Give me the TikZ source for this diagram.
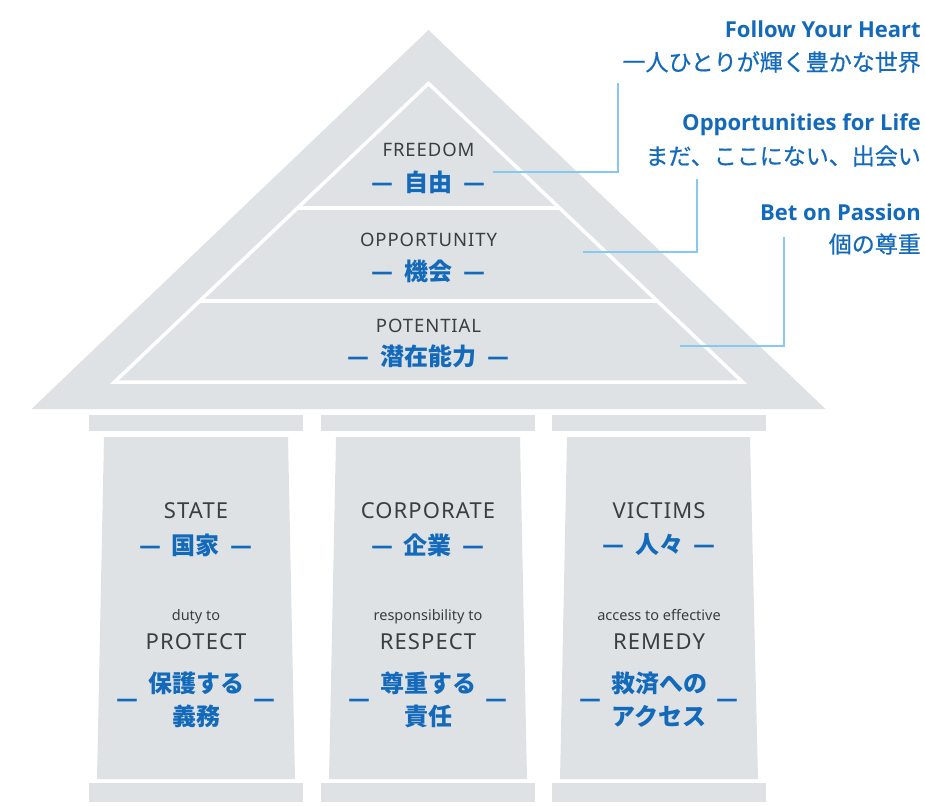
\documentclass[tikz,border=0pt]{standalone}
\usepackage{fontspec}
\setmainfont{Noto Sans}
\newfontfamily\mottofont{Open Sans}
\newfontfamily\jpfont{Noto Sans CJK JP}
\newfontfamily\jpmedium{Noto Sans CJK JP}[FakeBold=0.6]
\usetikzlibrary{positioning}

\definecolor{stonegray}{RGB}{223,226,229}
\definecolor{labelgray}{RGB}{58,62,66}
\definecolor{accentblue}{RGB}{20,106,186}
\definecolor{leaderblue}{RGB}{135,200,240}

\begin{document}
\begin{tikzpicture}[x=1pt,y=-1pt,
  stone/.style={fill=stonegray},
  groove/.style={draw=white,line width=3.5pt,line join=miter},
  roofen/.style={font=\fontsize{18.5}{20}\selectfont\addfontfeatures{LetterSpace=5},text=labelgray,inner sep=0pt,anchor=base},
  roofjp/.style={font=\jpfont\bfseries\fontsize{24}{24}\selectfont,text=accentblue,inner sep=0pt,anchor=center},
  colen/.style={font=\fontsize{22}{24}\selectfont\addfontfeatures{LetterSpace=5},text=labelgray,inner sep=0pt,anchor=base},
  colsmall/.style={font=\fontsize{14.5}{16}\selectfont,text=labelgray,inner sep=0pt,anchor=base},
  coljp/.style={font=\jpfont\bfseries\fontsize{24}{33}\selectfont,text=accentblue,inner sep=0pt,anchor=center,align=center},
  coldash/.style={font=\jpfont\bfseries\fontsize{24}{24}\selectfont,text=accentblue,inner sep=0pt,yshift=-4pt},
  motto/.style={font=\mottofont\bfseries\fontsize{22}{24}\selectfont,text=accentblue,inner sep=0pt,anchor=base east},
  mottojp/.style={font=\jpmedium\fontsize{23}{23}\selectfont,text=accentblue,inner sep=0pt,anchor=east},
  leader/.style={draw=leaderblue,line width=2pt}
]
\useasboundingbox (0,0) rectangle (925,805);

% roof
\fill[stone] (428.5,30) -- (825.5,409) -- (31.5,409) -- cycle;
\draw[groove] (428.5,83.5) -- (742.5,382) -- (114.5,382) -- cycle;
\draw[groove] (297.6,208) -- (559.4,208);
\draw[groove] (199.8,301) -- (657.2,301);

% capitals and bases
\foreach \x in {89,321,552} {
  \fill[stone] (\x,415) rectangle ++(214,16);
  \fill[stone] (\x,783) rectangle ++(214,19);
}
% column shafts
\fill[stone] (104,437) -- (288,437) -- (295,779) -- (97,779) -- cycle;
\fill[stone] (336,437) -- (520,437) -- (527,779) -- (329,779) -- cycle;
\fill[stone] (567,437) -- (750,437) -- (758,779) -- (560,779) -- cycle;

% roof labels
\node[roofen] (freedom) at (428.5,157) {FREEDOM};
\node[roofjp] (jiyu) at (428.5,182) {—\hspace{11pt}自由\hspace{11pt}—};
\node[roofen] (opportunity) at (428.5,246) {OPPORTUNITY};
\node[roofjp] (kikai) at (428.5,271) {—\hspace{11pt}機会\hspace{11pt}—};
\node[roofen] (potential) at (428.5,332) {POTENTIAL};
\node[roofjp] (senzai) at (428.5,356) {—\hspace{11pt}潜在能力\hspace{11pt}—};

% column labels
\node[colen] (state) at (196,518) {STATE};
\node[roofjp] (kokka) at (196,545) {—\hspace{11pt}国家\hspace{11pt}—};
\node[colsmall] (dutyto) at (196,620) {duty to};
\node[colen] (protect) at (196,649) {PROTECT};
\node[coljp] (hogo) at (196,699.5) {保護する\\義務};
\node[coldash,left=9pt of hogo] (hogoL) {—};
\node[coldash,right=9pt of hogo] (hogoR) {—};

\node[colen] (corporate) at (428,518) {CORPORATE};
\node[roofjp] (kigyo) at (428,545) {—\hspace{11pt}企業\hspace{11pt}—};
\node[colsmall] (respto) at (428,620) {responsibility to};
\node[colen] (respect) at (428,649) {RESPECT};
\node[coljp] (sonchou) at (428,699.5) {尊重する\\責任};
\node[coldash,left=9pt of sonchou] (sonchouL) {—};
\node[coldash,right=9pt of sonchou] (sonchouR) {—};

\node[colen] (victims) at (659,518) {VICTIMS};
\node[roofjp] (hitobito) at (659,545) {—\hspace{11pt}人々\hspace{11pt}—};
\node[colsmall] (accessto) at (659,620) {access to effective};
\node[colen] (remedy) at (659,649) {REMEDY};
\node[coljp] (kyusai) at (659,699.5) {救済への\\アクセス};
\node[coldash,left=9pt of kyusai] (kyusaiL) {—};
\node[coldash,right=9pt of kyusai] (kyusaiR) {—};

% mottos
\node[motto] (heart) at (921,38) {Follow Your Heart};
\node[mottojp] (heartjp) at (921,62) {一人ひとりが輝く豊かな世界};
\node[motto] (life) at (921,131) {Opportunities for Life};
\node[mottojp] (lifejp) at (921,156) {まだ、ここにない、出会い};
\node[motto] (passion) at (921,220) {Bet on Passion};
\node[mottojp] (passionjp) at (921,244) {個の尊重};

% leader lines from the roof bands to the mottos
\coordinate (l1s) at (493,172);
\coordinate (l1e) at (618,83);
\coordinate (l2s) at (583,252);
\coordinate (l2e) at (697,179);
\coordinate (l3s) at (680,346);
\coordinate (l3e) at (784,237);
\draw[leader] (l1s) -| (l1e);
\draw[leader] (l2s) -| (l2e);
\draw[leader] (l3s) -| (l3e);
\end{tikzpicture}
\end{document}
